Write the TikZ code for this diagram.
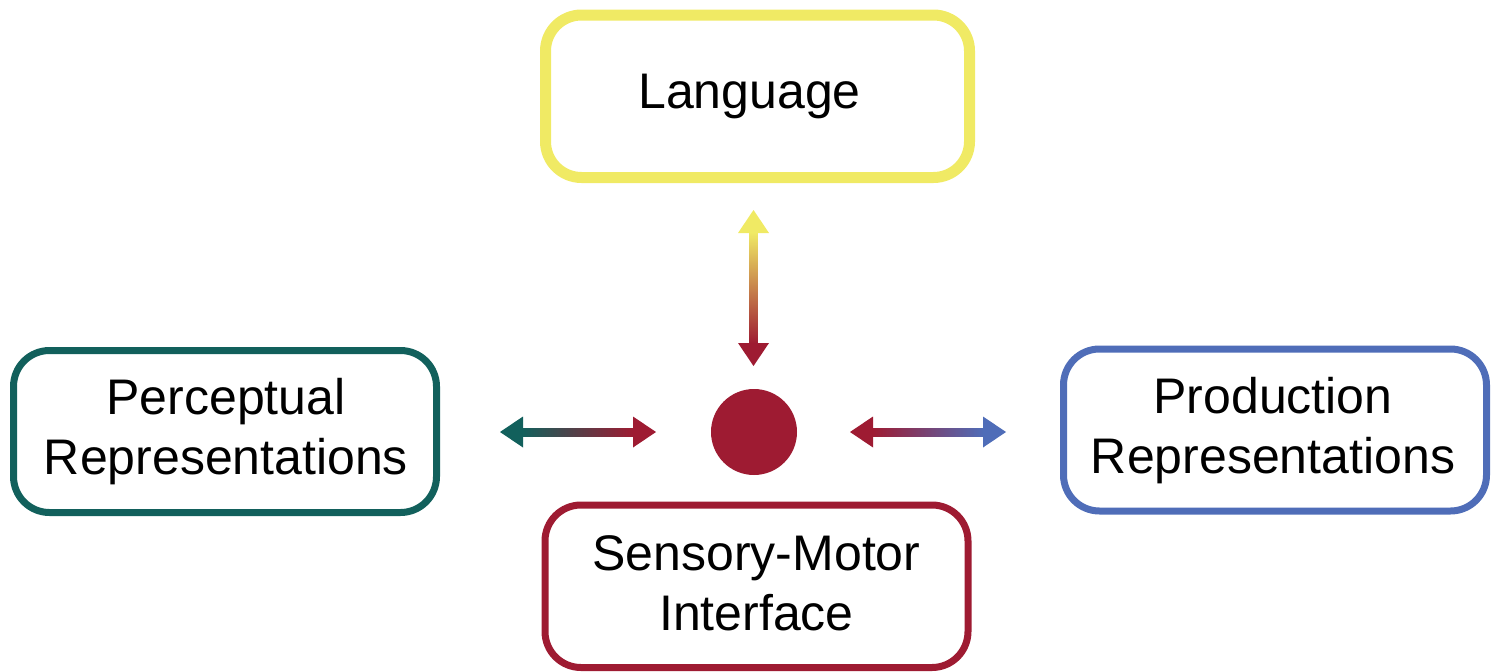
\documentclass[tikz,border=0pt]{standalone}
\usepackage{fontspec}
\setmainfont{Liberation Sans}
\usetikzlibrary{calc}

\definecolor{langyellow}{RGB}{240,234,100}
\definecolor{percteal}{RGB}{18,96,92}
\definecolor{smired}{RGB}{158,27,50}
\definecolor{prodblue}{RGB}{79,109,184}

% Horizontal double-headed arrow with a colour gradient along its shaft:
% #1 left tip, #2 right tip, #3 colour at the left, #4 colour at the right
\newcommand\hgradarrow[4]{%
  \fill[#3] (#1) -- ++(23,-15.5) -- ++(0,31) -- cycle;
  \shade[left color=#3, right color=#4] ($(#1)+(22.5,-4)$) rectangle ($(#2)+(-22.5,4)$);
  \fill[#4] (#2) -- ++(-23,-15.5) -- ++(0,31) -- cycle;
}
% Vertical double-headed arrow: #1 top tip, #2 bottom tip,
% #3 colour at the top, #4 colour at the bottom
\newcommand\vgradarrow[4]{%
  \fill[#3] (#1) -- ++(-15.5,23) -- ++(31,0) -- cycle;
  \shade[top color=#3, bottom color=#4] ($(#1)+(-4,22.5)$) rectangle ($(#2)+(4,-22.5)$);
  \fill[#4] (#2) -- ++(-15.5,-23) -- ++(31,0) -- cycle;
}

\begin{document}
\begin{tikzpicture}[x=1pt, y=-1pt,
  box/.style={draw, rounded corners=36, line width=7, minimum width=423,
              minimum height=162, inner sep=0pt},
  txt/.style={font=\fontsize{50}{60}\selectfont, align=center, inner sep=0pt}]
  \useasboundingbox (0,0) rectangle (1502,672);

  % boxes
  \node[box, draw=langyellow, line width=11, minimum width=424, minimum height=162.5,
        label={[txt, xshift=-8]center:Language}] (lang) at (757.5,96.25) {};
  \node[box, draw=percteal,
        label={[txt, xshift=1]center:Perceptual\\Representations}] (perc) at (225,431.5) {};
  \node[box, draw=prodblue,
        label={[txt, xshift=-2, yshift=-1]center:Production\\Representations}] (prod) at (1275,430) {};
  \node[box, draw=smired, minimum height=162.5,
        label={[txt, yshift=3]center:Sensory-Motor\\Interface}] (smi) at (756.5,586.25) {};

  % central hub
  \node[circle, fill=smired, minimum size=86, inner sep=0pt] (hub) at (754,432) {};

  % arrow end points
  \coordinate (percL) at (500,432);
  \coordinate (percR) at (656,432);
  \coordinate (prodL) at (850,432);
  \coordinate (prodR) at (1006,432);
  \coordinate (langT) at (753.5,210);
  \coordinate (langB) at (753.5,366);

  \hgradarrow{percL}{percR}{percteal}{smired}
  \hgradarrow{prodL}{prodR}{smired}{prodblue}
  \vgradarrow{langT}{langB}{langyellow}{smired}
\end{tikzpicture}
\end{document}
